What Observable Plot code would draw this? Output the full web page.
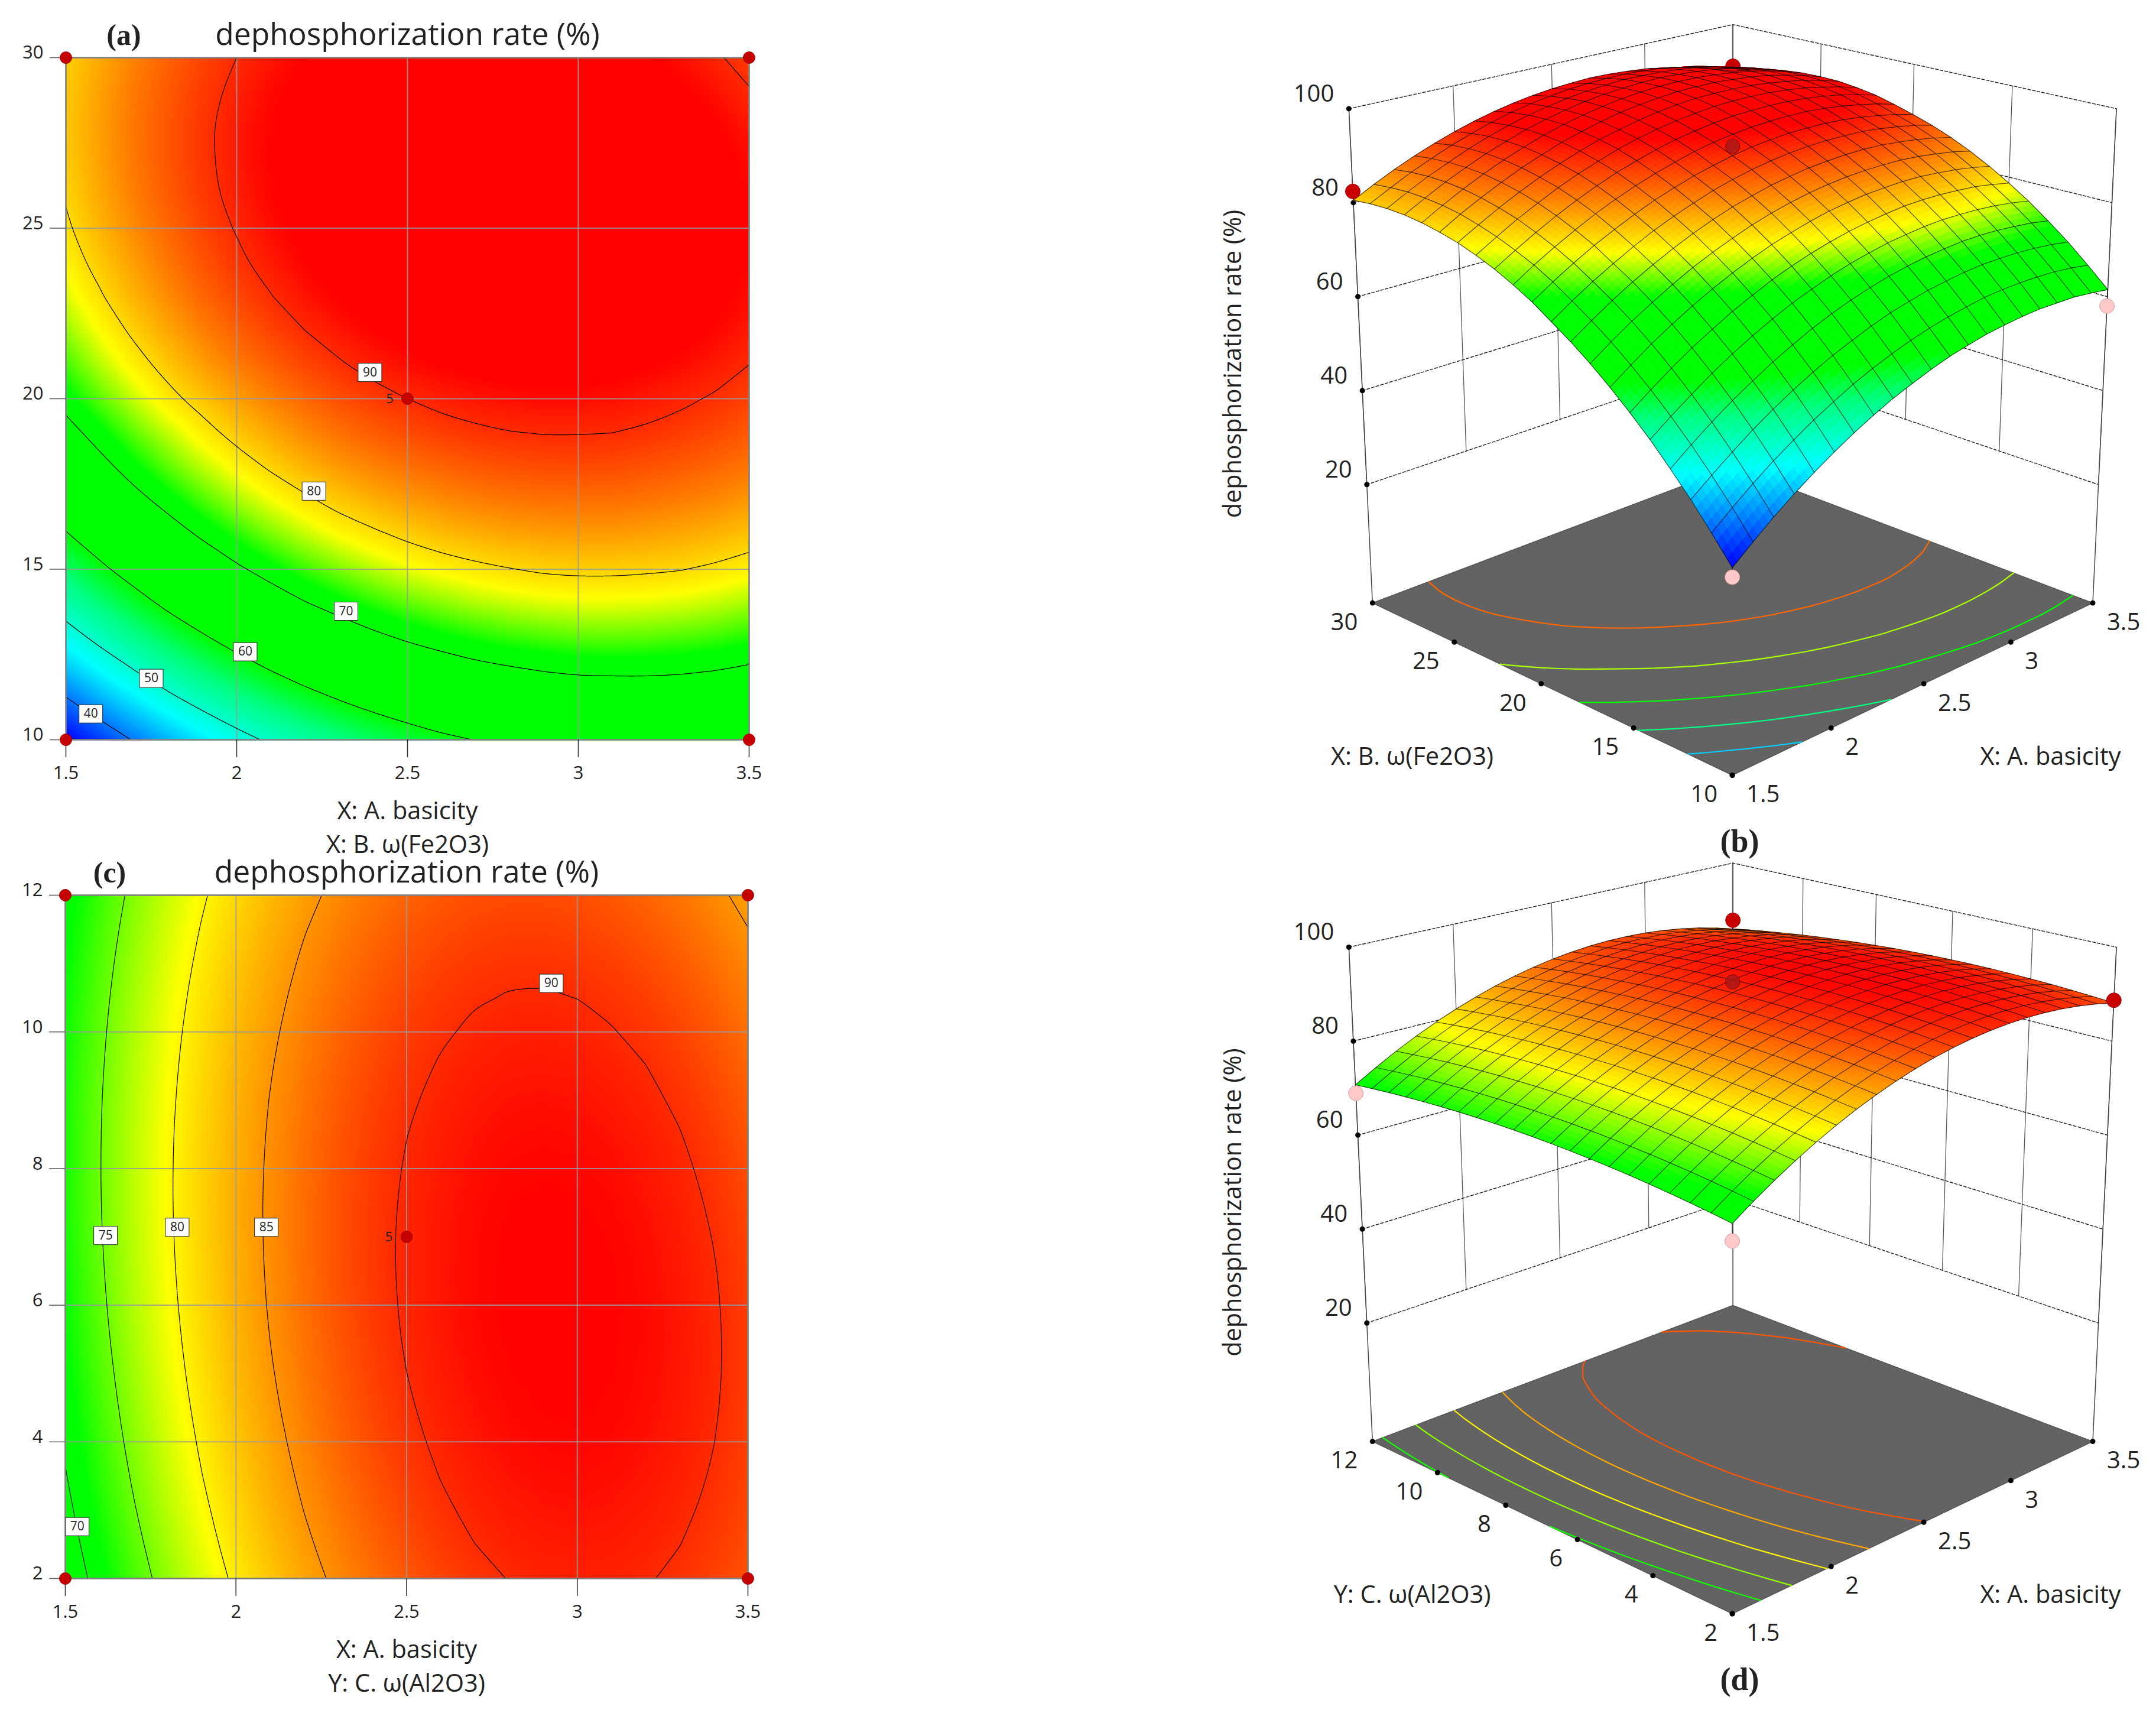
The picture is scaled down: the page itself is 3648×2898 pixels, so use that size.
<!DOCTYPE html>
<html>
<head>
<meta charset="utf-8">
<script src="https://cdn.jsdelivr.net/npm/d3@7"></script>
<script src="https://cdn.jsdelivr.net/npm/@observablehq/plot@0.6"></script>
<style>
html,body{margin:0;padding:0;background:#fff}
#page{position:relative;width:3648px;height:2898px;background:#fff;overflow:hidden}
</style>
</head>
<body>
<div id="page"></div>
<script>
// ---------- chart values ----------
const basicityTicks = [1.5, 2, 2.5, 3, 3.5];
const fe2o3Ticks = [10, 15, 20, 25, 30];
const al2o3Ticks = [2, 4, 6, 8, 10, 12];
const rateTicks = [20, 40, 60, 80, 100];
const basicityGrid = [1.5,1.6,1.7,1.8,1.9,2.0,2.1,2.2,2.3,2.4,2.5,2.6,2.7,2.8,2.9,3.0,3.1,3.2,3.3,3.4,3.5];
const fe2o3Grid = [10,11,12,13,14,15,16,17,18,19,20,21,22,23,24,25,26,27,28,29,30];
const al2o3Grid = [2,2.5,3,3.5,4,4.5,5,5.5,6,6.5,7,7.5,8,8.5,9,9.5,10,10.5,11,11.5,12];

// dephosphorization rate (%): rows = ω(Fe2O3) 10…30, columns = basicity 1.5…3.5
const rateByFe2O3 = [
[33.8,37.1,40.3,43.2,45.9,48.4,50.7,52.8,54.7,56.3,57.8,59.1,60.1,61.0,61.6,62.1,62.4,62.4,62.4,62.0,61.5],
[38.8,42.1,45.2,48.1,50.7,53.2,55.4,57.5,59.3,60.9,62.3,63.5,64.5,65.3,66.0,66.4,66.6,66.6,66.5,66.1,65.5],
[43.6,46.8,49.8,52.7,55.3,57.7,59.9,61.9,63.6,65.2,66.6,67.7,68.7,69.4,70.0,70.4,70.5,70.5,70.3,69.9,69.3],
[48.0,51.2,54.2,57.0,59.5,61.9,64.0,66.0,67.7,69.2,70.5,71.6,72.5,73.2,73.7,74.1,74.2,74.1,73.8,73.4,72.7],
[52.2,55.3,58.2,61.0,63.5,65.8,67.9,69.8,71.4,72.9,74.2,75.2,76.1,76.7,77.2,77.5,77.5,77.4,77.1,76.6,75.9],
[56.0,59.1,62.0,64.7,67.1,69.4,71.4,73.3,74.9,76.3,77.5,78.5,79.3,79.9,80.4,80.6,80.6,80.4,80.1,79.5,78.7],
[59.6,62.6,65.5,68.1,70.5,72.7,74.7,76.5,78.1,79.4,80.6,81.6,82.3,82.9,83.2,83.4,83.4,83.1,82.7,82.1,81.3],
[62.9,65.9,68.7,71.2,73.6,75.8,77.7,79.4,81.0,82.3,83.4,84.3,85.0,85.5,85.8,85.9,85.9,85.6,85.1,84.5,83.6],
[65.9,68.8,71.6,74.1,76.4,78.5,80.4,82.1,83.6,84.8,85.9,86.7,87.4,87.8,88.1,88.2,88.1,87.7,87.2,86.5,85.6],
[68.6,71.5,74.2,76.6,78.9,81.0,82.8,84.4,85.9,87.1,88.1,88.9,89.5,89.9,90.1,90.1,90.0,89.6,89.0,88.3,87.3],
[71.3,74.1,76.7,79.1,81.2,83.2,85.0,86.5,87.9,89.0,90.0,90.8,91.3,91.7,91.8,91.8,91.6,91.1,90.5,89.7,88.7],
[73.5,76.3,78.8,81.1,83.3,85.2,86.9,88.4,89.7,90.9,91.8,92.5,93.0,93.3,93.4,93.4,93.1,92.6,91.9,91.1,90.0],
[75.5,78.1,80.6,82.9,85.0,86.9,88.6,90.0,91.3,92.4,93.2,93.9,94.4,94.6,94.7,94.6,94.3,93.8,93.1,92.2,91.1],
[77.1,79.7,82.2,84.4,86.5,88.3,89.9,91.4,92.6,93.6,94.4,95.0,95.5,95.7,95.7,95.6,95.2,94.7,93.9,93.0,91.8],
[78.5,81.0,83.4,85.6,87.6,89.4,91.0,92.4,93.5,94.5,95.3,95.9,96.3,96.4,96.4,96.2,95.8,95.2,94.5,93.5,92.3],
[79.5,82.1,84.4,86.5,88.5,90.2,91.8,93.1,94.2,95.2,95.9,96.4,96.8,96.9,96.9,96.6,96.2,95.6,94.7,93.7,92.4],
[80.3,82.8,85.1,87.2,89.1,90.8,92.3,93.6,94.6,95.5,96.2,96.7,97.0,97.1,97.0,96.7,96.2,95.6,94.7,93.6,92.3],
[80.8,83.2,85.5,87.5,89.4,91.0,92.5,93.7,94.7,95.6,96.2,96.6,96.9,97.0,96.8,96.5,96.0,95.3,94.3,93.2,91.9],
[81.0,83.4,85.6,87.5,89.4,91.0,92.4,93.6,94.5,95.3,95.9,96.3,96.6,96.5,96.4,96.0,95.5,94.7,93.7,92.6,91.2],
[80.9,83.2,85.4,87.3,89.1,90.6,92.0,93.2,94.1,94.8,95.4,95.7,95.9,95.9,95.7,95.3,94.6,93.9,92.8,91.6,90.2],
[80.5,82.8,84.9,86.8,88.5,90.0,91.3,92.4,93.3,94.0,94.5,94.8,95.0,94.9,94.6,94.2,93.5,92.7,91.6,90.4,88.9]
];

// dephosphorization rate (%): rows = ω(Al2O3) 2…12, columns = basicity 1.5…3.5
const rateByAl2O3 = [
[68.11,70.97,73.64,76.11,78.39,80.47,82.35,84.04,85.53,86.83,87.93,88.83,89.54,90.05,90.37,90.49,90.41,90.14,89.67,89.01,88.14],
[68.75,71.59,74.25,76.70,78.96,81.03,82.89,84.57,86.04,87.32,88.41,89.29,89.99,90.48,90.78,90.89,90.79,90.51,90.02,89.34,88.46],
[69.33,72.16,74.80,77.24,79.48,81.53,83.38,85.04,86.50,87.76,88.83,89.70,90.38,90.86,91.14,91.23,91.12,90.82,90.32,89.62,88.72],
[69.86,72.67,75.30,77.72,79.95,81.98,83.81,85.46,86.90,88.15,89.20,90.05,90.72,91.18,91.45,91.52,91.39,91.08,90.56,89.85,88.93],
[70.34,73.13,75.75,78.15,80.36,82.38,84.19,85.83,87.25,88.48,89.52,90.35,91.01,91.45,91.70,91.76,91.61,91.29,90.75,90.02,89.09],
[70.76,73.54,76.14,78.53,80.72,82.72,84.52,86.14,87.55,88.76,89.78,90.60,91.24,91.67,91.90,91.94,91.78,91.44,90.89,90.14,89.19],
[71.13,73.89,76.48,78.85,81.03,83.01,84.79,86.40,87.79,88.99,89.99,90.79,91.42,91.83,92.05,92.07,91.89,91.54,90.97,90.21,89.24],
[71.45,74.19,76.77,79.12,81.28,83.25,85.01,86.61,87.98,89.16,90.15,90.93,91.55,91.94,92.14,92.15,91.95,91.59,91.00,90.22,89.24],
[71.71,74.44,77.00,79.34,81.48,83.43,85.18,86.76,88.12,89.28,90.25,91.02,91.62,92.00,92.18,92.17,91.96,91.58,90.98,90.18,89.18],
[71.92,74.63,77.18,79.50,81.63,83.56,85.29,86.86,88.20,89.35,90.30,91.05,91.64,92.00,92.17,92.14,91.91,91.52,90.90,90.09,89.07],
[72.08,74.77,77.30,79.61,81.72,83.64,85.35,86.90,88.23,89.36,90.30,91.03,91.60,91.95,92.10,92.06,91.81,91.40,90.77,89.94,88.91],
[72.18,74.86,77.37,79.67,81.76,83.66,85.36,86.89,88.21,89.32,90.24,90.96,91.51,91.85,91.98,91.92,91.66,91.23,90.59,89.74,88.69],
[72.23,74.89,77.39,79.67,81.75,83.63,85.31,86.83,88.13,89.23,90.13,90.83,91.37,91.69,91.81,91.73,91.45,91.01,90.35,89.49,88.42],
[72.23,74.87,77.35,79.62,81.68,83.55,85.21,86.71,88.00,89.08,89.97,90.65,91.17,91.48,91.58,91.49,91.19,90.73,90.06,89.18,88.10],
[72.17,74.80,77.26,79.51,81.56,83.41,85.06,86.54,87.81,88.88,89.75,90.42,90.92,91.21,91.30,91.19,90.88,90.40,89.71,88.82,87.72],
[72.06,74.67,77.12,79.35,81.38,83.22,84.85,86.32,87.57,88.62,89.48,90.13,90.62,90.89,90.96,90.84,90.51,90.02,89.31,88.40,87.29],
[71.90,74.49,76.92,79.14,81.15,82.98,84.59,86.04,87.28,88.31,89.16,89.79,90.26,90.52,90.57,90.44,90.09,89.58,88.86,87.93,86.81],
[71.68,74.26,76.67,78.87,80.87,82.68,84.28,85.71,86.93,87.95,88.78,89.40,89.85,90.09,90.13,89.98,89.62,89.09,88.35,87.41,86.27],
[71.41,73.97,76.37,78.55,80.53,82.33,83.91,85.33,86.53,87.53,88.35,88.95,89.39,89.61,89.63,89.47,89.09,88.55,87.79,86.83,85.68],
[71.09,73.63,76.01,78.18,80.14,81.93,83.49,84.89,86.08,87.06,87.87,88.45,88.87,89.08,89.08,88.91,88.51,87.95,87.18,86.20,85.04],
[70.71,73.24,75.60,77.75,79.70,81.47,83.02,84.40,85.57,86.54,87.33,87.90,88.30,88.49,88.48,88.29,87.88,87.30,86.51,85.52,84.34]
];

const contourLevelsFe = [40, 50, 60, 70, 80, 90];
const contourLevelsAl = [70, 75, 80, 85, 90];
const floorLevelsFe = [44.5, 55, 65.5, 76, 86.5];
const floorLevelsAl = [72, 76, 80, 84, 88];

// contour labels
const labelsFe = [[2.39,20.77,"90"],[2.226,17.29,"80"],[2.32,13.77,"70"],[2.025,12.58,"60"],[1.75,11.8,"50"],[1.573,10.76,"40"]];
const labelsAl = [[2.924,10.71,"90"],[2.089,7.14,"85"],[1.828,7.14,"80"],[1.618,7.02,"75"],[1.535,2.76,"70"]];

// design points: basicity, second factor, measured rate
const designFe = [[1.5,30,82.4],[3.5,30,90.1],[1.5,10,32],[3.5,10,58],[2.5,20,92]];
const designAl = [[1.5,12,68.9],[3.5,12,86.4],[1.5,2,64.8],[3.5,2,88.7],[2.5,7,92.6]];

// colour ramps
const rampColors = ["#0000ff","#00ffff","#00ff80","#00ff00","#00ff00","#ffff00","#ff8000","#ff0000"];
const rampFe = [34, 47, 55, 60, 72, 78, 85, 92.5];
const rampAl = [34, 49, 57, 62, 71.5, 79.5, 86, 92];

// ---------- helpers ----------
const font = "'Open Sans','Noto Sans',sans-serif";
const page = document.getElementById("page");

function gridPoints(rows, xs, ys) {
  const pts = [];
  rows.forEach((r, j) => r.forEach((v, i) => pts.push({x: xs[i], y: ys[j], v})));
  return pts;
}

// iso-lines of a table, returned in 0…1 table coordinates
function isoLines(rows, levels) {
  const ny = rows.length, nx = rows[0].length, flat = rows.flat();
  const inside = p => p[0] >= .5 && p[0] <= nx - .5 && p[1] >= .5 && p[1] <= ny - .5;
  const cross = (a, b) => {
    let t = 1;
    [[0, nx], [1, ny]].forEach(([k, n]) => {
      if (b[k] < .5) t = Math.min(t, (.5 - a[k]) / (b[k] - a[k]));
      if (b[k] > n - .5) t = Math.min(t, (n - .5 - a[k]) / (b[k] - a[k]));
    });
    return [a[0] + t * (b[0] - a[0]), a[1] + t * (b[1] - a[1])];
  };
  const out = [];
  let id = 0;
  const emit = (line, level) => {
    id++;
    line.forEach(p => out.push({id, level, fu: (p[0] - .5) / (nx - 1), fv: (p[1] - .5) / (ny - 1)}));
  };
  levels.forEach(level => {
    const g = d3.contours().size([nx, ny]).smooth(true).thresholds([level])(flat)[0];
    g.coordinates.forEach(poly => poly.forEach(ring => {
      const start = ring.findIndex(p => !inside(p));
      if (start < 0) { emit(ring, level); return; }
      const m = ring.length;
      let cur = null;
      for (let k = 1; k <= m; k++) {
        const p = ring[(start + k) % m], q = ring[(start + k - 1) % m];
        if (inside(p)) {
          if (!cur) cur = [cross(p, q)];
          cur.push(p);
        } else if (cur) {
          cur.push(cross(q, p));
          if (cur.length > 1) emit(cur, level);
          cur = null;
        }
      }
      if (cur && cur.length > 1) emit(cur, level);
    }));
  });
  return out;
}

const boxSymbol = {draw(c) { c.rect(-20, -15.5, 40, 31); }};

// ---------- contour panels ----------
function contourPanel(o) {
  const pts = gridPoints(o.rows, basicityGrid, o.yGrid);
  const [y0, y1] = d3.extent(o.yGrid);
  const lines = isoLines(o.rows, o.levels).map(d => ({...d, x: 1.5 + 2 * d.fu, y: y0 + (y1 - y0) * d.fv}));
  const labels = o.labels.map(([x, y, t]) => ({x, y, t}));
  const design = o.design.map(([x, y]) => ({x, y}));
  const midX = 2.5;
  const svg = Plot.plot({
    width: 1824, height: 1449,
    marginLeft: o.left, marginRight: 1824 - o.right, marginTop: o.top, marginBottom: 1449 - o.bottom,
    x: {domain: [1.5, 3.5]}, y: {domain: [y0, y1]},
    color: {type: "linear", domain: o.ramp, range: rampColors, clamp: true},
    style: {position: "absolute", left: "0px", top: o.offset + "px", overflow: "visible", background: "transparent", fontFamily: font, color: "#222"},
    marks: [
      Plot.raster(pts, {x: "x", y: "y", fill: "v", interpolate: "barycentric", pixelSize: 1}),
      Plot.gridX(basicityTicks, {stroke: "#9a9a9a", strokeOpacity: .85, strokeWidth: 2}),
      Plot.gridY(o.yTicks, {stroke: "#9a9a9a", strokeOpacity: .85, strokeWidth: 2}),
      Plot.line(lines, {x: "x", y: "y", z: "id", stroke: "#000", strokeWidth: 1.2, strokeDasharray: "3 1", curve: "catmull-rom"}),
      Plot.frame({stroke: "#808080", strokeWidth: 2.5}),
      Plot.axisX(basicityTicks, {tickSize: 30, tickPadding: 14, fontSize: 31, tickFormat: d => String(d), label: null, stroke: "#333", strokeWidth: 1.6}),
      Plot.axisY(o.yTicks, {tickSize: 27, tickFormat: () => "", label: null, stroke: "#666", strokeWidth: 1.6}),
      Plot.text(o.yTicks, {x: 1.5, y: d => d, text: d => String(d), dx: -38, dy: -8, textAnchor: "end", fontSize: 31}),
      Plot.dot(labels, {x: "x", y: "y", symbol: boxSymbol, r: 10, fill: "#fff", stroke: "#222", strokeWidth: 1}),
      Plot.text(labels, {x: "x", y: "y", text: "t", fontSize: 21}),
      Plot.dot(design, {x: "x", y: "y", r: 10, fill: "#c40000", stroke: "#a00", strokeWidth: 1}),
      Plot.text([o.center], {x: d => d[0], y: d => d[1], text: () => "5", dx: -30, fontSize: 22}),
      Plot.text(["dephosphorization rate (%)"], {x: midX, y: y1, dy: o.titleDy, fontSize: 51.5, fontWeight: 400}),
      Plot.text([o.tag], {x: 1.5, y: y1, dx: o.tagDx, dy: o.titleDy, fontSize: 50, fontWeight: 700, fontFamily: "'Liberation Serif',serif"}),
      Plot.text([o.xLabel], {x: midX, y: y0, dy: 121, fontSize: 41.5}),
      Plot.text([o.yLabel], {x: midX, y: y0, dy: 178, fontSize: 41.5})
    ]
  });
  page.appendChild(svg);
}

// ---------- surface panels ----------
const floorFront = [1106.6, 1311], floorRight = [1716.5, 1019.6], floorLeft = [497.8, 1019.6];
const camW = 1.133, camCx = 1106.6, camFan = 0.0657, camH = 947.4, zFloor = -5.2;

function project(u, v, z, shift) {
  const d = 1 + (camW - 1) * (u + v);
  const hx = floorFront[0] + u * (camW * floorRight[0] - floorFront[0]) + v * (camW * floorLeft[0] - floorFront[0]);
  const hy = floorFront[1] + u * (camW * floorRight[1] - floorFront[1]) + v * (camW * floorLeft[1] - floorFront[1]);
  const x = hx / d, y = hy / d, w = (z - zFloor) / (100 - zFloor);
  return {x: x + (x - camCx) * camFan * w, y: y - camH / d * w + shift};
}

function surfacePanel(o) {
  const rows = o.rows, n = rows.length - 1;
  const P = (u, v, z) => project(u, v, z, o.shift);
  const val = (fu, fv) => {
    const gu = Math.min(fu * n, n - 1e-9), gv = Math.min(fv * n, n - 1e-9);
    const i = Math.floor(gu), j = Math.floor(gv), a = gu - i, b = gv - j;
    return rows[j][i] * (1 - a) * (1 - b) + rows[j][i + 1] * a * (1 - b) + rows[j + 1][i] * (1 - a) * b + rows[j + 1][i + 1] * a * b;
  };
  const [yMin, yMax] = d3.extent(o.yTicks);
  const uOf = a => (a - 1.5) / 2, vOf = b => (b - yMin) / (yMax - yMin);

  // surface facets, back to front
  const facets = [];
  const sub = 4, m = n * sub;
  let fid = 0;
  for (let iu = m - 1; iu >= 0; iu--) for (let iv = m - 1; iv >= 0; iv--) {
    const u0 = iu / m, u1 = (iu + 1) / m, v0 = iv / m, v1 = (iv + 1) / m;
    const v = val((u0 + u1) / 2, (v0 + v1) / 2);
    fid++;
    [[u0, v0], [u1, v0], [u1, v1], [u0, v1], [u0, v0]].forEach(([a, b]) => {
      facets.push({id: fid, v, ...P(a, b, val(a, b))});
    });
  }
  // mesh
  const mesh = [];
  for (let i = 0; i <= n; i++) for (let j = 0; j <= n; j++) {
    mesh.push({id: "u" + i, ...P(i / n, j / n, rows[j][i])});
    mesh.push({id: "v" + i, ...P(j / n, i / n, rows[i][j])});
  }
  // floor, contours on floor
  const floor = [[0, 0], [1, 0], [1, 1], [0, 1], [0, 0]].map(([u, v]) => P(u, v, zFloor));
  const floorLines = isoLines(rows, o.floorLevels).map(d => ({...d, ...P(d.fu, d.fv, zFloor)}));

  // walls
  const walls = [], wallsZ = [], corners = [];
  let wid = 0;
  basicityTicks.forEach(a => {
    wid++;
    [20, 100].forEach(z => walls.push({id: wid, ...P(uOf(a), 1, z)}));
  });
  o.yTicks.forEach(b => {
    wid++;
    [20, 100].forEach(z => walls.push({id: wid, ...P(1, vOf(b), z)}));
  });
  rateTicks.forEach(z => {
    [[0, 1], [1, 1], [1, 0]].forEach(([u, v]) => wallsZ.push({id: z, ...P(u, v, z)}));
  });
  [[0, 1], [1, 0], [1, 1]].forEach(([u, v], k) => {
    [zFloor, 100].forEach(z => corners.push({id: k, ...P(u, v, z)}));
  });
  const zDots = rateTicks.map(z => ({z, ...P(0, 1, z)}));
  const aDots = basicityTicks.map(a => ({t: String(a), ...P(uOf(a), 0, zFloor)}));
  const bDots = o.yTicks.map(b => ({t: String(b), ...P(0, vOf(b), zFloor)}));

  // design points
  const design = o.design.map(([a, b, z]) => {
    const u = uOf(a), v = vOf(b);
    return {...P(u, v, z), u, v, z, low: z < val(u, v), back: u === 1 && v === 1};
  });
  const stems = design.flatMap((d, i) => [{id: i, x: d.x, y: d.y}, {id: i, ...P(d.u, d.v, val(d.u, d.v))}]);
  const dotFill = d => d.low ? "#ffc9c9" : (d.u === .5 ? "#a81818" : "#c80000");
  const backDots = design.filter(d => d.back);
  const frontDots = design.filter(d => !d.back);

  const frameText = (t, dx, dy, extra = {}) => Plot.text([t], {frameAnchor: "top-left", dx, dy, textAnchor: "middle", lineAnchor: "middle", ...extra});

  const svg = Plot.plot({
    width: 1824, height: 1449,
    margin: 0,
    x: {domain: [0, 1824], range: [0, 1824], axis: null},
    y: {domain: [0, 1449], range: [0, 1449], axis: null},
    color: {type: "linear", domain: o.ramp, range: rampColors, clamp: true},
    style: {position: "absolute", left: "1824px", top: o.offset + "px", overflow: "visible", background: "transparent", fontFamily: font, color: "#222"},
    marks: [
      Plot.line(walls, {x: "x", y: "y", z: "id", stroke: "#555", strokeWidth: 1.3}),
      Plot.line(wallsZ, {x: "x", y: "y", z: "id", stroke: "#222", strokeWidth: 1.4, strokeDasharray: "5 3"}),
      Plot.line(corners, {x: "x", y: "y", z: "id", stroke: "#444", strokeWidth: 1.5}),
      Plot.line(floor, {x: "x", y: "y", fill: "#636363", stroke: "#555"}),
      Plot.line(floorLines, {x: "x", y: "y", z: "id", stroke: "level", strokeWidth: 2.2, curve: "catmull-rom"}),
      Plot.dot(zDots, {x: "x", y: "y", r: 4.5, fill: "#000"}),
      Plot.dot(aDots, {x: "x", y: "y", r: 4.5, fill: "#000"}),
      Plot.dot(bDots, {x: "x", y: "y", r: 4.5, fill: "#000"}),
      Plot.text(zDots, {x: "x", y: "y", text: d => String(d.z), dx: -25, dy: -25, textAnchor: "end", fontSize: 40}),
      Plot.text(aDots, {x: "x", y: "y", text: "t", dx: 24, dy: 33, textAnchor: "start", fontSize: 40}),
      Plot.text(bDots, {x: "x", y: "y", text: "t", dx: -25, dy: 33, textAnchor: "end", fontSize: 40}),
      Plot.line(stems, {x: "x", y: "y", z: "id", stroke: "#222", strokeWidth: 1.4}),
      Plot.dot(backDots, {x: "x", y: "y", r: 12.5, fill: dotFill, stroke: "#a00000", strokeWidth: 1}),
      Plot.line(facets, {x: "x", y: "y", z: "id", fill: "v", stroke: "v", strokeWidth: .7}),
      Plot.line(mesh, {x: "x", y: "y", z: "id", stroke: "#000", strokeOpacity: .68, strokeWidth: 1.2}),
      Plot.dot(frontDots, {x: "x", y: "y", r: 12.5, fill: dotFill, fillOpacity: d => d.u === .5 ? .85 : 1, stroke: d => d.low ? "#d8a0a0" : "#a00000", strokeWidth: 1}),
      frameText(o.leftLabel, 565, 1280 + o.shift, {fontSize: 41.5}),
      frameText("X: A. basicity", 1645, 1280 + o.shift, {fontSize: 41.5}),
      frameText("dephosphorization rate (%)", 262, 615 + o.shift, {fontSize: 41.3, rotate: -90}),
      frameText(o.tag, 1119, 1423 + o.shift, {fontSize: 54, fontWeight: 700, fontFamily: "'Liberation Serif',serif"})
    ]
  });
  page.appendChild(svg);
}

contourPanel({
  rows: rateByFe2O3, yGrid: fe2o3Grid, yTicks: fe2o3Ticks, levels: contourLevelsFe, labels: labelsFe, design: designFe, ramp: rampFe,
  center: [2.5, 20], left: 111, right: 1267, top: 97, bottom: 1251, offset: 0, titleDy: -38, tag: "(a)", tagDx: 98,
  xLabel: "X: A. basicity", yLabel: "X: B. ω(Fe2O3)"
});
contourPanel({
  rows: rateByAl2O3, yGrid: al2o3Grid, yTicks: al2o3Ticks, levels: contourLevelsAl, labels: labelsAl, design: designAl, ramp: rampAl,
  center: [2.5, 7], left: 110, right: 1265, top: 65, bottom: 1221, offset: 1449, titleDy: -38, tag: "(c)", tagDx: 75,
  xLabel: "X: A. basicity", yLabel: "Y: C. ω(Al2O3)"
});
surfacePanel({
  rows: rateByFe2O3, yTicks: fe2o3Ticks, floorLevels: floorLevelsFe, design: designFe, ramp: rampFe,
  shift: 0, offset: 0, tag: "(b)", leftLabel: "X: B. ω(Fe2O3)"
});
surfacePanel({
  rows: rateByAl2O3, yTicks: al2o3Ticks, floorLevels: floorLevelsAl, design: designAl, ramp: rampAl,
  shift: -30.5, offset: 1449, tag: "(d)", leftLabel: "Y: C. ω(Al2O3)"
});
</script>
</body>
</html>
